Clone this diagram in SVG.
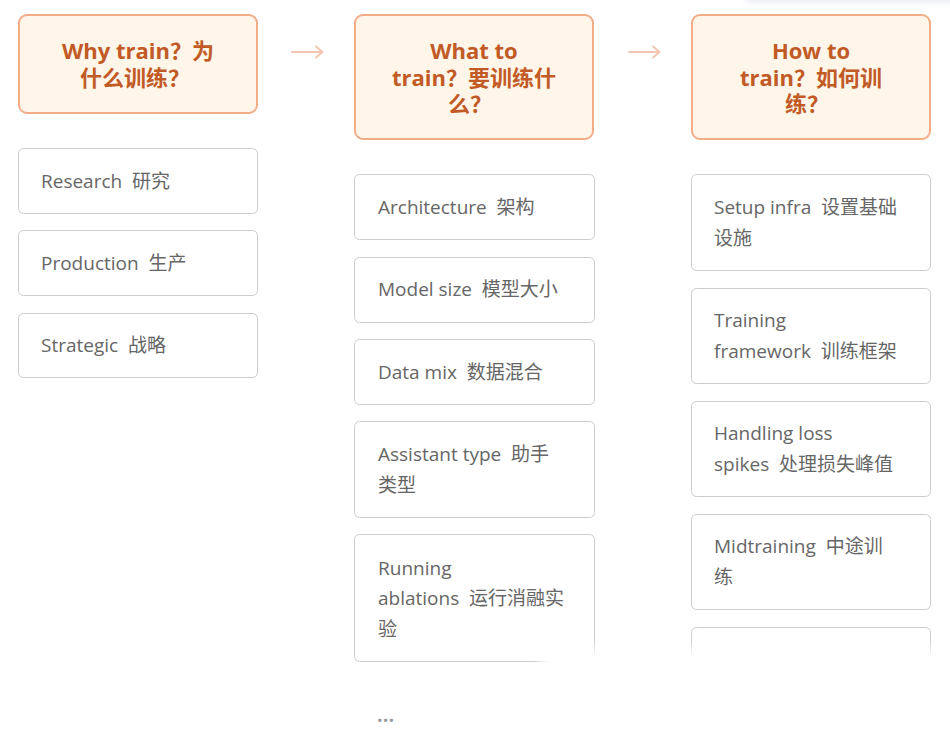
<svg xmlns="http://www.w3.org/2000/svg" width="950" height="749" viewBox="0 0 950 749">
<defs>
<style>
.hdr rect{fill:#fff5e8;stroke:#f3ad86;stroke-width:2}
.hdr text{font-family:"Open Sans","Noto Sans CJK SC",sans-serif;font-size:22px;font-weight:700;fill:#c25a26;text-anchor:middle}
.item rect{fill:#ffffff;stroke:#cccccc;stroke-width:1}
.item text{font-family:"Open Sans","Noto Sans CJK SC",sans-serif;font-size:19px;fill:#666666;white-space:pre}
.conn path{fill:none;stroke:#f2c6b0;stroke-width:2;stroke-linecap:round;stroke-linejoin:round}
</style>
<filter id="sh" x="-20%" y="-200%" width="140%" height="500%">
<feGaussianBlur stdDeviation="3"/>
</filter>
<filter id="fade" x="-20%" y="-20%" width="140%" height="140%">
<feGaussianBlur stdDeviation="6"/>
</filter>
</defs>
<rect width="950" height="749" fill="#ffffff"/>
<rect x="745" y="-30" width="230" height="32" rx="6" fill="#e6e8ee" filter="url(#sh)"/>
<rect x="745" y="-30" width="230" height="30" rx="6" fill="#ffffff"/>

<g id="hdr-why" class="hdr">
<rect x="19" y="15" width="238" height="98" rx="8"/>
<text x="138" y="59" xml:space="preserve">Why train？为</text>
<text x="135" y="86">什么训练？</text>
</g>
<g id="hdr-what" class="hdr">
<rect x="355" y="15" width="238" height="124" rx="8"/>
<text x="474" y="59">What to</text>
<text x="474" y="86">train？要训练什</text>
<text x="470" y="112">么？</text>
</g>
<g id="hdr-how" class="hdr">
<rect x="692" y="15" width="238" height="124" rx="8"/>
<text x="811" y="59">How to</text>
<text x="811" y="86">train？如何训</text>
<text x="807" y="112">练？</text>
</g>

<g id="connectors" class="conn">
<path d="M292 52 H322"/>
<path d="M316 46.5 L322.5 52 L316 57.5"/>
<path d="M629 52 H659"/>
<path d="M653 46.5 L659.5 52 L653 57.5"/>
</g>

<g id="research" class="item"><rect x="18.5" y="148.5" width="239" height="65" rx="5"/><text x="41" y="187.5" xml:space="preserve">Research  研究</text></g>
<g id="production" class="item"><rect x="18.5" y="230.5" width="239" height="65" rx="5"/><text x="41" y="269.5" xml:space="preserve">Production  生产</text></g>
<g id="strategic" class="item"><rect x="18.5" y="313.5" width="239" height="64" rx="5"/><text x="41" y="351.5" xml:space="preserve">Strategic  战略</text></g>

<g id="architecture" class="item"><rect x="354.5" y="174.5" width="240" height="65" rx="5"/><text x="378" y="213.5" xml:space="preserve">Architecture  架构</text></g>
<g id="model-size" class="item"><rect x="354.5" y="257.5" width="240" height="65" rx="5"/><text x="378" y="295.5" xml:space="preserve">Model size  模型大小</text></g>
<g id="data-mix" class="item"><rect x="354.5" y="339.5" width="240" height="65" rx="5"/><text x="378" y="378.5" xml:space="preserve">Data mix  数据混合</text></g>
<g id="assistant-type" class="item"><rect x="354.5" y="421.5" width="240" height="96" rx="5"/><text x="378" y="460.5" xml:space="preserve">Assistant type  助手</text><text x="378" y="491.5">类型</text></g>
<g id="ablations" class="item"><rect x="354.5" y="534.5" width="240" height="127" rx="5"/><text x="378" y="574.5">Running</text><text x="378" y="604.5" xml:space="preserve">ablations  运行消融实</text><text x="378" y="635.5">验</text></g>
<g id="more"><text x="377" y="722" font-family="'Open Sans',sans-serif" font-size="20" font-weight="700" fill="#9a9a9a">...</text></g>

<g id="setup-infra" class="item"><rect x="691.5" y="174.5" width="239" height="96" rx="5"/><text x="714" y="213.5" xml:space="preserve">Setup infra  设置基础</text><text x="714" y="244.5">设施</text></g>
<g id="training-framework" class="item"><rect x="691.5" y="288.5" width="239" height="95" rx="5"/><text x="714" y="326.5">Training</text><text x="714" y="357.5" xml:space="preserve">framework  训练框架</text></g>
<g id="loss-spikes" class="item"><rect x="691.5" y="401.5" width="239" height="95" rx="5"/><text x="714" y="439.5">Handling loss</text><text x="714" y="470.5" xml:space="preserve">spikes  处理损失峰值</text></g>
<g id="midtraining" class="item"><rect x="691.5" y="514.5" width="239" height="95" rx="5"/><text x="714" y="552.5" xml:space="preserve">Midtraining  中途训</text><text x="714" y="583.5">练</text></g>
<g id="next-item" class="item"><rect x="691.5" y="627.5" width="239" height="95" rx="5"/></g>

<rect x="540" y="648" width="460" height="140" fill="#ffffff" filter="url(#fade)"/>
</svg>
